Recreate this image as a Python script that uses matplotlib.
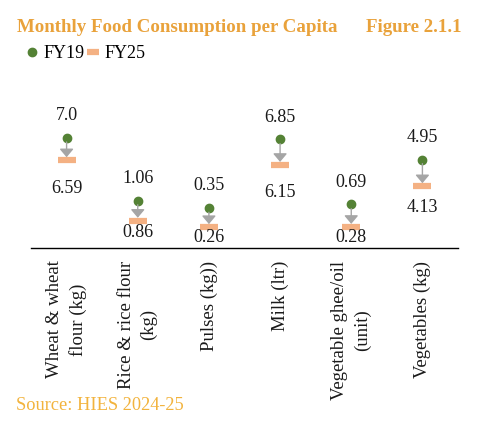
import matplotlib.pyplot as plt
from matplotlib.lines import Line2D
import numpy as np

categories = ['Wheat & wheat\nflour (kg)', 'Rice & rice flour\n(kg)', 'Pulses (kg))',
              'Milk (ltr)', 'Vegetable ghee/oil\n(unit)', 'Vegetables (kg)']
fy19 = [7.0, 1.06, 0.35, 6.85, 0.69, 4.95]
fy25 = [6.59, 0.86, 0.26, 6.15, 0.28, 4.13]
fy19_text = ['7.0', '1.06', '0.35', '6.85', '0.69', '4.95']
fy25_text = ['6.59', '0.86', '0.26', '6.15', '0.28', '4.13']

green = '#548235'
peach = '#F4B183'
grey = '#A5A5A5'
orange = '#E9A23B'
serif = 'Liberation Serif'

fig = plt.figure(figsize=(4.84, 4.23), dpi=100)
ax = fig.add_axes([31 / 484, 175 / 423, 427 / 484, 153 / 423])
ax2 = ax.twinx()

x = np.arange(len(categories))

# two series sit on separate scales, as in the original chart
ax.set_ylim(-3.43, 11.06)
ax2.set_ylim(-1.74, 12.75)
ax.set_xlim(-0.5, 5.5)
ax2.set_xlim(-0.5, 5.5)

ax.plot(x, fy19, 'o', color=green, ms=6, zorder=3)
ax2.plot(x, fy25, '_', color=peach, ms=13.5, mew=4.5, zorder=3)

for i in range(len(x)):
    ax2.annotate('', xy=(x[i], fy25[i]), xycoords=ax2.transData,
                 xytext=(x[i], fy19[i]), textcoords=ax.transData,
                 arrowprops=dict(arrowstyle='-|>,head_width=0.42,head_length=0.5',
                                 color=grey, lw=1, shrinkA=3, shrinkB=2),
                 zorder=2)
    ax.annotate(fy19_text[i], (x[i], fy19[i]), xytext=(0, 16), textcoords='offset points',
                ha='center', va='center', fontsize=13, family=serif, color='#1a1a1a')
    ax2.annotate(fy25_text[i], (x[i], fy25[i]), xytext=(0, -(7 + 2.1 * fy25[i])),
                 textcoords='offset points', ha='center', va='center',
                 fontsize=13, family=serif, color='#1a1a1a')

for a in (ax, ax2):
    for s in ['top', 'right', 'left']:
        a.spines[s].set_visible(False)
    a.set_yticks([])
ax2.spines['bottom'].set_visible(False)
ax.spines['bottom'].set_linewidth(1)
ax.spines['bottom'].set_color('black')

ax.set_xticks(x)
ax.set_xticklabels(categories, rotation=90, ha='center', va='top', multialignment='center',
                   fontsize=13.5, family=serif, color='#1a1a1a', linespacing=1.4)
ax.tick_params(axis='x', length=0, pad=9)

fig.text(17 / 484, 1 - 27 / 423, 'Monthly Food Consumption per Capita', fontsize=13.6,
         fontweight='bold', family=serif, color=orange, va='center', ha='left')
fig.text(462 / 484, 1 - 27 / 423, 'Figure 2.1.1', fontsize=13.6,
         fontweight='bold', family=serif, color=orange, va='center', ha='right')
fig.text(16 / 484, 1 - 405 / 423, 'Source: HIES 2024-25', fontsize=13.2,
         family=serif, color='#F2B33D', va='center', ha='left')

handles = [Line2D([], [], marker='o', ls='none', color=green, ms=6),
           Line2D([], [], marker='_', ls='none', color=peach, ms=9, mew=4.5)]
fig.legend(handles, ['FY19', 'FY25'], loc='center left', bbox_to_anchor=(9 / 484, 1 - 54 / 423),
           ncol=2, frameon=False, handlelength=0.8, handletextpad=0.2, columnspacing=0.1,
           prop={'family': serif, 'size': 13})

plt.savefig('out.png', dpi=100)
